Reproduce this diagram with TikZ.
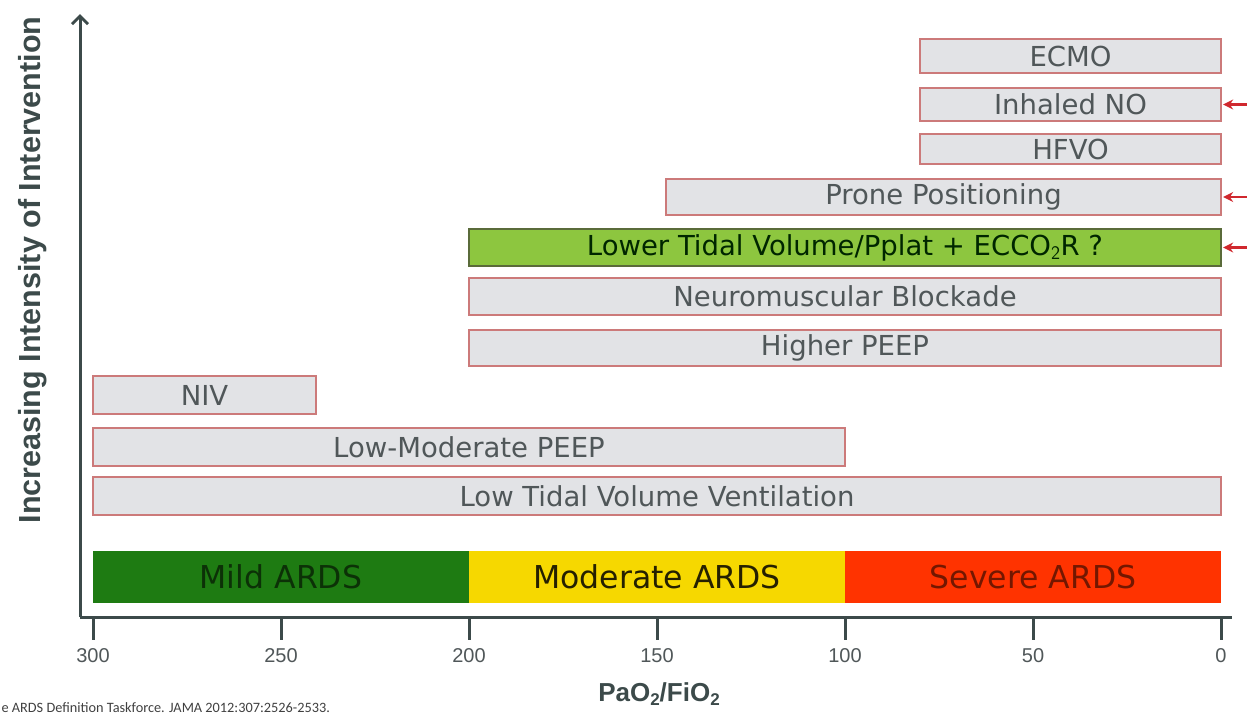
\documentclass[tikz,border=0pt]{standalone}
\usepackage{fontspec}
\newfontfamily\boxfont{DejaVu Sans}
\newfontfamily\arialf{Liberation Sans}
\newfontfamily\calib{Carlito}
\usetikzlibrary{arrows.meta}
\definecolor{boxfill}{HTML}{E2E3E6}
\definecolor{boxline}{HTML}{CC7A7A}
\definecolor{boxtext}{HTML}{505759}
\definecolor{lvfill}{HTML}{8DC63F}
\definecolor{lvline}{HTML}{5A6B3A}
\definecolor{axiscol}{HTML}{3C4A4A}
\definecolor{mildc}{HTML}{1E7B12}
\definecolor{modc}{HTML}{F6D800}
\definecolor{sevc}{HTML}{FF3300}
\definecolor{arrowred}{HTML}{D0282E}
\newcommand{\subtwo}{\raisebox{-0.32ex}{\fontsize{17}{18}\selectfont 2}}
\tikzset{
  intbox/.style={draw=boxline, fill=boxfill, line width=1.3pt, inner sep=0pt, text=boxtext,
    font=\boxfont\fontsize{27.5}{31}\selectfont},
  sevbox/.style={draw=none, inner sep=0pt, minimum height=52pt, minimum width=376pt,
    font=\boxfont\fontsize{31.5}{34}\selectfont},
  axisline/.style={draw=axiscol, line width=3pt},
  ticklab/.style={text=boxtext, font=\arialf\fontsize{20}{24}\selectfont},
  redarrow/.style={draw=arrowred, line width=2.5pt, -{Stealth[length=10pt,width=10pt]}}
}
\begin{document}
\begin{tikzpicture}[x=1pt,y=-1pt]
\useasboundingbox[fill=white] (0,0) rectangle (1247,716);
% axes
\coordinate (origin) at (80,617);
\coordinate (ytop) at (80,14);
\coordinate (xend) at (1232,617);
\draw[axisline, -{Straight Barb[length=8pt,width=16pt,line width=3pt]}] (origin) -- (ytop);
\draw[axisline] (origin) -- (xend);
% ticks
\foreach \v/\x in {300/93, 250/281, 200/469, 150/657, 100/845, 50/1033, 0/1221}{
  \coordinate (t\v) at (\x,617);
  \coordinate (tb\v) at (\x,640);
  \draw[axisline] (t\v) -- (tb\v);
  \node[ticklab] (lab\v) at (\x,656) {\v};
}
\node[text=axiscol, font=\arialf\bfseries\fontsize{26}{30}\selectfont] (xlabel) at (659,694) {PaO\subtwo/FiO\subtwo};
\node[text=axiscol, rotate=90, font=\arialf\bfseries\fontsize{30.5}{34}\selectfont] (ylabel) at (33,270) {Increasing Intensity of Intervention};
\node[anchor=west, text=black!75, font=\calib\fontsize{14.3}{17}\selectfont] (cite) at (-2,708) {e ARDS Definition Taskforce. JAMA 2012:307:2526-2533.};
% severity bar
\node[sevbox, fill=mildc, text=mildc!40!black] (mild) at (281,577) {Mild ARDS};
\node[sevbox, fill=modc, text=black!85!modc] (moderate) at (657,577) {Moderate ARDS};
\node[sevbox, fill=sevc, text=sevc!45!black] (severe) at (1033,577) {Severe ARDS};
% intervention boxes
\node[intbox, minimum width=301pt, minimum height=34pt] (ecmo) at (1070.5,56) {ECMO};
\node[intbox, minimum width=301pt, minimum height=33pt] (ino) at (1070.5,104.5) {Inhaled NO};
\node[intbox, minimum width=301pt, minimum height=30pt] (hfvo) at (1070.5,149) {HFVO};
\node[intbox, minimum width=555pt, minimum height=36pt] (prone) at (943.5,197) {Prone Positioning};
\node[intbox, draw=lvline, fill=lvfill, text=black!85!green, minimum width=752pt, minimum height=37pt] (ltv) at (845,247.5) {Lower Tidal Volume/Pplat + ECCO$_\mathsf{2}$R ?};
\node[intbox, minimum width=752pt, minimum height=37pt] (nmb) at (845,296.5) {Neuromuscular Blockade};
\node[intbox, minimum width=752pt, minimum height=36pt] (hpeep) at (845,348) {Higher PEEP};
\node[intbox, minimum width=223pt, minimum height=38pt] (niv) at (204.5,395) {NIV};
\node[intbox, minimum width=752pt, minimum height=38pt] (lmpeep) at (469,447) {Low-Moderate PEEP};
\node[intbox, minimum width=1128pt, minimum height=38pt] (ltvv) at (657,496) {Low Tidal Volume Ventilation};
% red arrows
\coordinate (ra1) at (1250,104.5);
\coordinate (ra2) at (1250,197);
\coordinate (ra3) at (1250,247.5);
\draw[redarrow] (ra1) -- ([xshift=1.5pt]ino.east);
\draw[redarrow] (ra2) -- ([xshift=1.5pt]prone.east);
\draw[redarrow] (ra3) -- ([xshift=1.5pt]ltv.east);
\end{tikzpicture}
\end{document}
